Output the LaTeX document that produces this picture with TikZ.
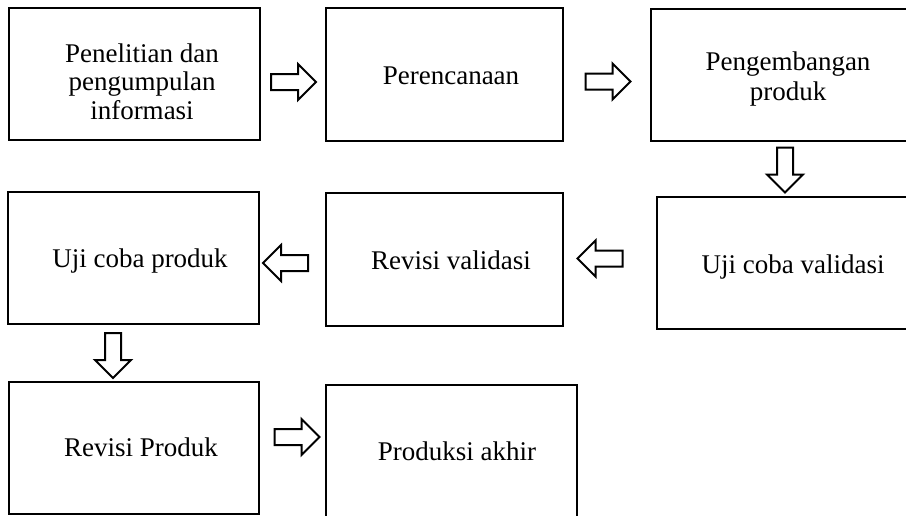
\documentclass[tikz,border=0pt]{standalone}
\usepackage{fontspec}
\setmainfont{Liberation Serif}
\usetikzlibrary{shapes.arrows}
\tikzset{
  stepbox/.style={draw=black, line width=2pt, rectangle, inner sep=0pt, fill=white},
  boxtext/.style={inner sep=0pt, align=center, font=\fontsize{27}{27.5}\selectfont},
  blockarrow/.style={draw=black, line width=2pt, single arrow, fill=white, inner sep=7pt,
    minimum height=45pt, single arrow head extend=10pt, single arrow tip angle=90},
}
\begin{document}
\begin{tikzpicture}[x=1pt, y=-1pt]
\useasboundingbox[fill=white] (0,0) rectangle (906,515);
% boxes
\node[stepbox, minimum width=251pt, minimum height=132pt] (b1) at (134.5,74) {};
\node[stepbox, minimum width=237pt, minimum height=133pt] (b2) at (444.5,74.5) {};
\node[stepbox, minimum width=260pt, minimum height=132pt] (b3) at (781,75) {};
\node[stepbox, minimum width=258pt, minimum height=132pt] (b4) at (786,263) {};
\node[stepbox, minimum width=237pt, minimum height=133pt] (b5) at (444.5,259.5) {};
\node[stepbox, minimum width=251pt, minimum height=132pt] (b6) at (133.5,258) {};
\node[stepbox, minimum width=250pt, minimum height=132pt] (b7) at (134,448) {};
\node[stepbox, minimum width=251pt, minimum height=132pt] (b8) at (451.5,451) {};
% texts
\node[boxtext, anchor=north] (t1) at (142,43.5) {Penelitian dan\\[1pt]pengumpulan\\[1pt]informasi};
\node[boxtext, anchor=base] (t2) at (451,84) {Perencanaan};
\node[boxtext, anchor=north] (t3) at (788,51.5) {Pengembangan\\[3pt]produk};
\node[boxtext, anchor=base] (t4) at (793,273) {Uji coba validasi};
\node[boxtext, anchor=base] (t5) at (451,269) {Revisi validasi};
\node[boxtext, anchor=base] (t6) at (140,267) {Uji coba produk};
\node[boxtext, anchor=base] (t7) at (141,456) {Revisi Produk};
\node[boxtext, anchor=base] (t8) at (457,460) {Produksi akhir};
% block arrows
\node[blockarrow] (a12) at (289.5,82) {};
\node[blockarrow] (a23) at (604,81.5) {};
\node[blockarrow, shape border rotate=270] (a34) at (785,166) {};
\node[blockarrow, shape border rotate=180] (a45) at (604,258.5) {};
\node[blockarrow, shape border rotate=180] (a56) at (289.5,263) {};
\node[blockarrow, shape border rotate=270] (a67) at (113,351.5) {};
\node[blockarrow] (a78) at (293,437) {};
\end{tikzpicture}
\end{document}
